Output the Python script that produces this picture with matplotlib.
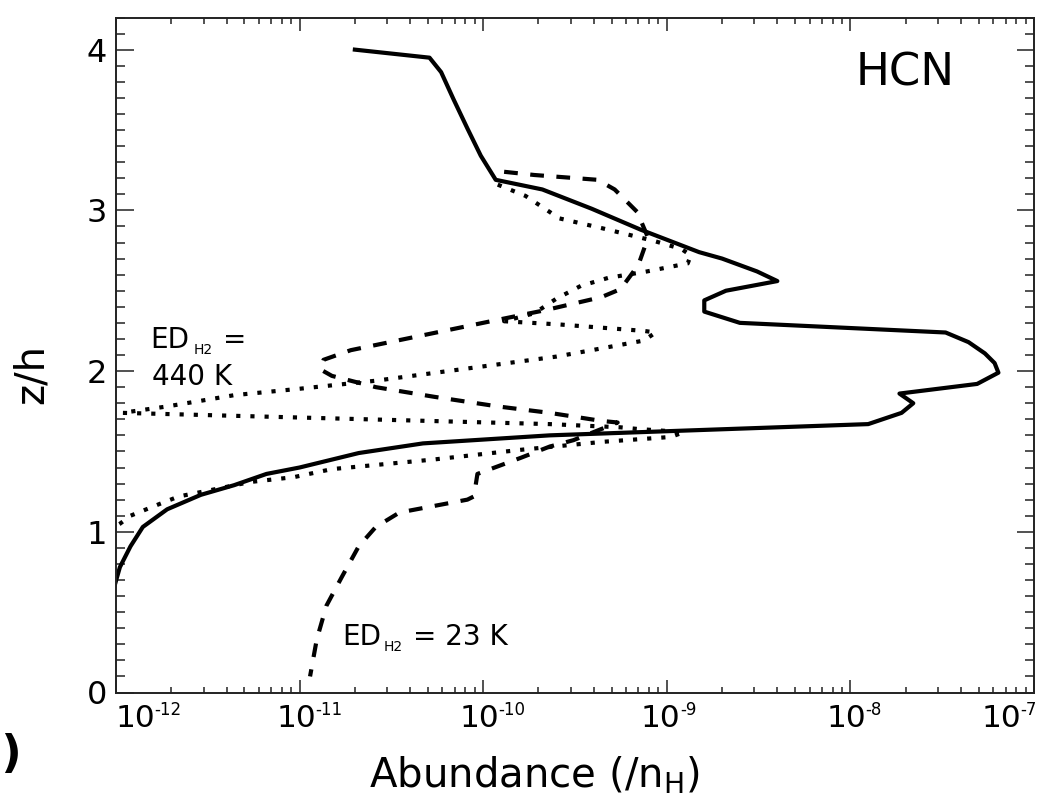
import matplotlib
matplotlib.use('Agg')
import matplotlib.pyplot as plt
import matplotlib.transforms as mtransforms
from matplotlib.ticker import LogLocator, MultipleLocator, NullFormatter

# HCN abundance profiles vs height, three H2 desorption energies
z_fid = [4.00, 3.95, 3.86, 3.69, 3.51, 3.34, 3.19, 3.13, 3.01, 2.88, 2.74, 2.70,
         2.62, 2.56, 2.50, 2.44, 2.37, 2.30, 2.24, 2.18, 2.11, 2.05, 1.99, 1.92,
         1.86, 1.80, 1.74, 1.67, 1.60, 1.55, 1.49, 1.40, 1.36, 1.29, 1.23, 1.14,
         1.03, 0.91, 0.78, 0.66]
x_fid = [2.0e-11, 5.1e-11, 5.9e-11, 6.9e-11, 8.2e-11, 9.7e-11, 1.17e-10, 2.1e-10,
         3.9e-10, 7.2e-10, 1.5e-9, 2.0e-9, 3.1e-9, 4.0e-9, 2.1e-9, 1.6e-9, 1.6e-9,
         2.5e-9, 3.3e-8, 4.4e-8, 5.4e-8, 6.1e-8, 6.4e-8, 4.9e-8, 1.85e-8, 2.2e-8,
         1.9e-8, 1.25e-8, 2.3e-10, 4.7e-11, 2.1e-11, 1.0e-11, 6.6e-12, 4.4e-12,
         2.9e-12, 1.9e-12, 1.4e-12, 1.2e-12, 1.05e-12, 0.98e-12]

z_ed23 = [3.24, 3.22, 3.19, 3.13, 2.99, 2.83, 2.66, 2.51, 2.46, 2.38, 2.31, 2.13,
          2.07, 2.01, 1.97, 1.90, 1.84, 1.78, 1.74, 1.69, 1.68, 1.57, 1.53, 1.46,
          1.36, 1.22, 1.20, 1.12, 1.03, 0.91, 0.72, 0.54, 0.33, 0.10]
x_ed23 = [1.3e-10, 1.9e-10, 4.2e-10, 5.2e-10, 6.9e-10, 7.9e-10, 7.0e-10, 5.6e-10,
          4.4e-10, 2.2e-10, 1.1e-10, 1.9e-11, 1.35e-11, 1.3e-11, 1.5e-11, 2.6e-11,
          5.4e-11, 1.2e-10, 2.3e-10, 4.4e-10, 5.4e-10, 3.1e-10, 2.3e-10, 1.6e-10,
          9.3e-11, 8.9e-11, 8.2e-11, 3.5e-11, 2.6e-11, 2.1e-11, 1.7e-11, 1.4e-11,
          1.24e-11, 1.14e-11]

z_ed440 = [3.16, 3.09, 2.95, 2.89, 2.81, 2.76, 2.72, 2.67, 2.62, 2.58, 2.53, 2.45,
           2.36, 2.31, 2.29, 2.25, 2.24, 2.19, 2.13, 2.09, 1.94, 1.89, 1.85, 1.78,
           1.74, 1.67, 1.65, 1.64, 1.62, 1.59, 1.56, 1.51, 1.45, 1.39, 1.34, 1.31,
           1.26, 1.22, 1.17, 1.10, 1.05, 1.02]
x_ed440 = [1.2e-10, 1.7e-10, 2.6e-10, 4.4e-10, 8.5e-10, 1.2e-9, 1.35e-9, 1.3e-9,
           7.8e-10, 4.8e-10, 3.4e-10, 2.5e-10, 1.9e-10, 1.3e-10, 2.6e-10, 7.5e-10,
           8.7e-10, 7.5e-10, 3.9e-10, 2.5e-10, 2.6e-11, 1.0e-11, 4.4e-12, 1.9e-12,
           1.08e-12, 2.3e-10, 5.6e-10, 6.9e-10, 1.24e-9, 1.05e-9, 4.5e-10, 1.6e-10,
           5.4e-11, 1.5e-11, 9.3e-12, 5.4e-12, 3.3e-12, 2.2e-12, 1.7e-12, 1.2e-12,
           1.05e-12, 0.95e-12]

decades = [-12, -11, -10, -9, -8, -7]
label_shift = [37, 15, 14, 12, 14, -15]   # px, keeps end labels inside the frame

W, H = 1039, 799
fig = plt.figure(figsize=(W / 100, H / 100), dpi=100)
ax = fig.add_axes([116 / W, 1 - 692.5 / H, 918 / W, 675 / H])

ax.plot(x_fid, z_fid, color='black', lw=3.0)
ax.plot(x_ed23, z_ed23, color='black', lw=3.0, linestyle=(0, (3.3, 3.0)))
ax.plot(x_ed440, z_ed440, color='black', lw=3.0, linestyle=(0, (1, 2.4)))

ax.set_xscale('log')
ax.set_xlim(1e-12, 1e-7)
ax.set_ylim(0, 4.2)

ax.xaxis.set_major_locator(LogLocator(base=10, numticks=10))
ax.xaxis.set_minor_locator(LogLocator(base=10, subs=range(2, 10), numticks=60))
ax.xaxis.set_major_formatter(NullFormatter())
ax.xaxis.set_minor_formatter(NullFormatter())
ax.yaxis.set_major_locator(MultipleLocator(1))
ax.yaxis.set_minor_locator(MultipleLocator(0.1))

for s in ax.spines.values():
    s.set_linewidth(1.4)
    s.set_color('#222222')
ax.tick_params(which='both', direction='in', top=True, right=True,
               color='#222222', width=1.1)
ax.tick_params(axis='x', which='major', length=9.1)
ax.tick_params(axis='x', which='minor', length=4.5)
ax.tick_params(axis='y', which='major', length=12.6, labelsize=23, pad=6.5)
ax.tick_params(axis='y', which='minor', length=6.8)

# 10^n labels with a small raised exponent
for d, sh in zip(decades, label_shift):
    t_base = mtransforms.offset_copy(ax.get_xaxis_transform(), fig=fig,
                                     x=sh + 2, y=-34.5, units='dots')
    ax.text(10.0 ** d, 0, '10', transform=t_base, ha='right', va='baseline',
            fontsize=22.5)
    t_sup = mtransforms.offset_copy(ax.get_xaxis_transform(), fig=fig,
                                    x=sh + 1, y=-22.5, units='dots')
    ax.text(10.0 ** d, 0, '%d' % d, transform=t_sup, ha='left', va='baseline',
            fontsize=12)

fig.text(535 / W, 1 - 787 / H, r'Abundance (/n$_{\mathregular{H}}$)',
         ha='center', va='baseline', fontsize=29)
fig.text(32 / W, 1 - 374 / H, 'z/h', rotation=90, ha='center', va='center',
         fontsize=29)
fig.text(905 / W, 1 - 85 / H, 'HCN', ha='center', va='baseline', fontsize=32.5)
fig.text(22 / W, 1 - 767 / H, '(6)', ha='right', va='baseline', fontsize=32,
         fontweight='bold')


def ed_label(x0, y0, rest, sub_x, rest_x):
    fig.text(x0 / W, 1 - y0 / H, 'ED', ha='left', va='baseline', fontsize=20)
    fig.text(sub_x / W, 1 - (y0 + 6) / H, 'H2', ha='left', va='baseline',
             fontsize=10)
    fig.text(rest_x / W, 1 - y0 / H, rest, ha='left', va='baseline',
             fontsize=20)


ed_label(150, 348, '=', 194, 223)
fig.text(152 / W, 1 - 385 / H, '440 K', ha='left', va='baseline', fontsize=20)
ed_label(342, 645, '= 23 K', 384, 413)

fig.savefig('out.png', dpi=100)
